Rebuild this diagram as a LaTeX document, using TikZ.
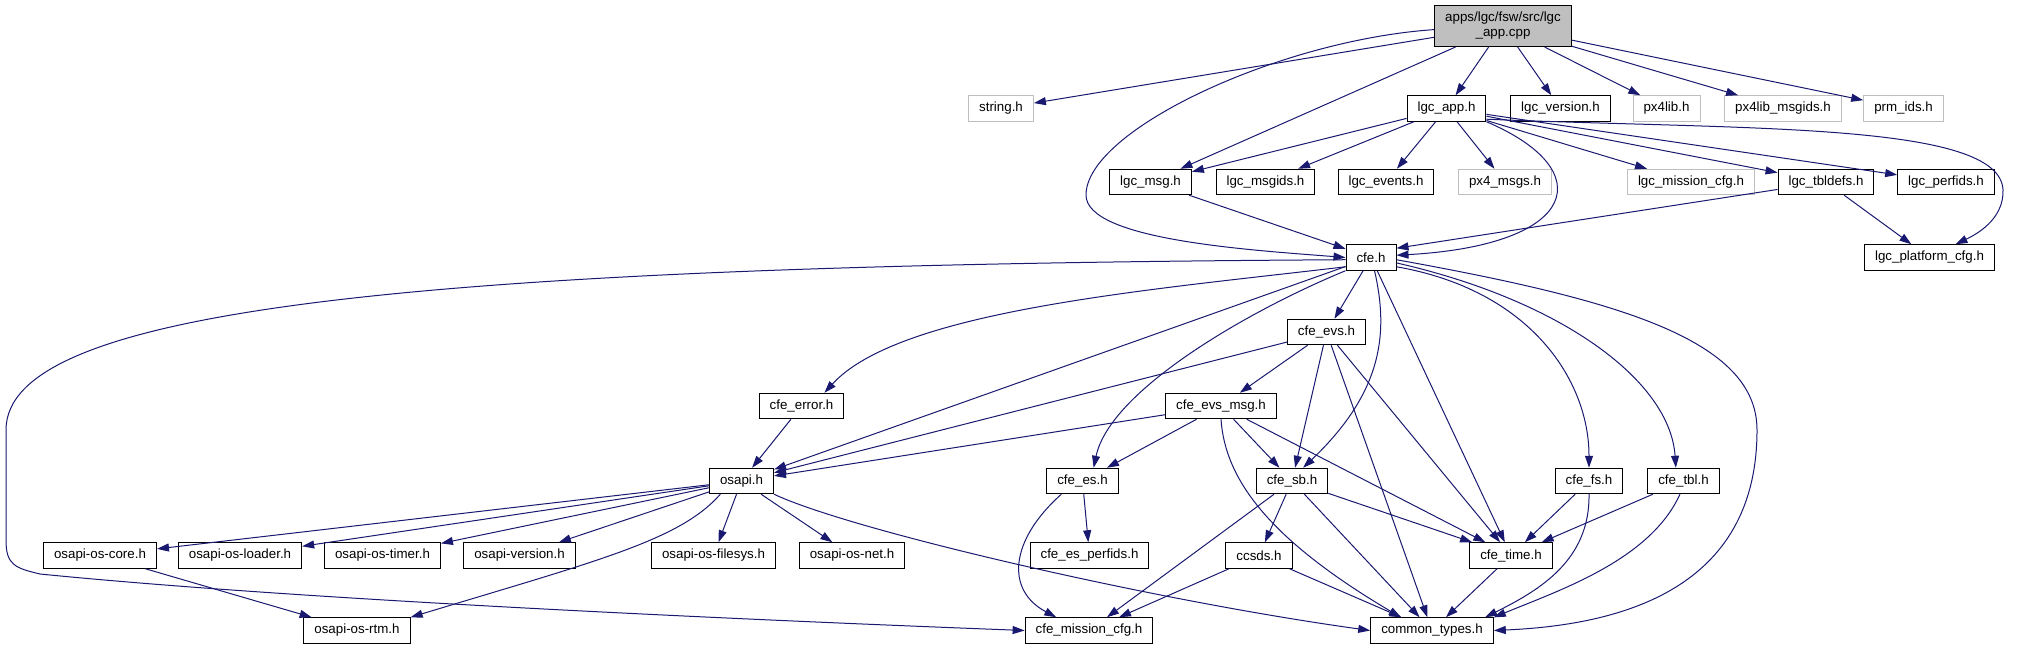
\documentclass[tikz,border=0pt]{standalone}
\usepackage{fontspec}
\newfontfamily\graphfont{Liberation Sans}
\usetikzlibrary{arrows.meta}

\definecolor{edgeblue}{HTML}{191970}
\definecolor{extgray}{HTML}{BFBFBF}

\begin{document}
\begin{tikzpicture}[
    x=0.75pt,
    y=-0.75pt,
    file/.style={
        rectangle,
        draw=black,
        fill=white,
        line width=0.75pt,
        font={\graphfont\fontsize{10}{11.25}\selectfont},
        inner xsep=7.9pt,
        inner ysep=0pt,
        minimum height=19.1pt
    },
    extfile/.style={file, draw=extgray},
    mainfile/.style={file, fill=extgray, align=center, minimum height=30.75pt},
    dep/.style={draw=edgeblue, line width=0.75pt, -{Triangle[length=9pt,width=6pt]}}
]

\useasboundingbox (0,0) rectangle (2019,649);

\node[mainfile] (appcpp) at (1503,26) {apps/lgc/fsw/src/lgc\\\_app.cpp};

\node[extfile] (string) at (1001,108.5) {string.h};
\node[file] (lgcapp) at (1446.5,108.5) {lgc\_app.h};
\node[file] (lgcversion) at (1560.5,108.5) {lgc\_version.h};
\node[extfile] (px4lib) at (1666.5,108.5) {px4lib.h};
\node[extfile] (px4msgids) at (1783,108.5) {px4lib\_msgids.h};
\node[extfile] (prmids) at (1903.5,108.5) {prm\_ids.h};

\node[file] (lgcmsg) at (1150.5,182) {lgc\_msg.h};
\node[file] (lgcmsgids) at (1265.5,182) {lgc\_msgids.h};
\node[file] (lgcevents) at (1386,182) {lgc\_events.h};
\node[extfile] (px4msgs) at (1505,182) {px4\_msgs.h};
\node[extfile] (lgcmission) at (1691,182) {lgc\_mission\_cfg.h};
\node[file] (lgctbldefs) at (1826,182) {lgc\_tbldefs.h};
\node[file] (lgcperfids) at (1946,182) {lgc\_perfids.h};

\node[file] (cfe) at (1371,257.5) {cfe.h};
\node[file] (lgcplatform) at (1929.5,257.5) {lgc\_platform\_cfg.h};

\node[file] (cfeevs) at (1326.5,332) {cfe\_evs.h};

\node[file] (cfeerror) at (801.5,406) {cfe\_error.h};
\node[file] (cfeevsmsg) at (1221,406) {cfe\_evs\_msg.h};

\node[file] (osapi) at (741.5,481) {osapi.h};
\node[file] (cfees) at (1082.5,481) {cfe\_es.h};
\node[file] (cfesb) at (1292,481) {cfe\_sb.h};
\node[file] (cfefs) at (1589,481) {cfe\_fs.h};
\node[file] (cfetbl) at (1683.5,481) {cfe\_tbl.h};

\node[file] (oscore) at (100,555.5) {osapi-os-core.h};
\node[file] (osloader) at (240,555.5) {osapi-os-loader.h};
\node[file] (ostimer) at (382.5,555.5) {osapi-os-timer.h};
\node[file] (osversion) at (519.5,555.5) {osapi-version.h};
\node[file] (osfilesys) at (713.5,555.5) {osapi-os-filesys.h};
\node[file] (osnet) at (852,555.5) {osapi-os-net.h};
\node[file] (cfeesperf) at (1089.5,555.5) {cfe\_es\_perfids.h};
\node[file] (ccsds) at (1259,555.5) {ccsds.h};
\node[file] (cfetime) at (1511,555.5) {cfe\_time.h};

\node[file] (osrtm) at (357,630.5) {osapi-os-rtm.h};
\node[file] (cfemission) at (1089,630.5) {cfe\_mission\_cfg.h};
\node[file] (commontypes) at (1432,630.5) {common\_types.h};

% source file
\draw[dep] (appcpp) -- (string);
\draw[dep] (appcpp) -- (lgcapp);
\draw[dep] (appcpp) -- (lgcversion);
\draw[dep] (appcpp) -- (px4lib);
\draw[dep] (appcpp) -- (px4msgids);
\draw[dep] (appcpp) -- (prmids);
\draw[dep] (appcpp) -- (lgcmsg);
\draw[dep] (appcpp.183) .. controls (1280,40) and (1086,130) .. (1086,195) .. controls (1086,240) and (1250,250) .. (cfe.west);

% lgc_app.h
\draw[dep] (lgcapp) -- (lgcmsg);
\draw[dep] (lgcapp) -- (lgcmsgids);
\draw[dep] (lgcapp) -- (lgcevents);
\draw[dep] (lgcapp) -- (px4msgs);
\draw[dep] (lgcapp) -- (lgcmission);
\draw[dep] (lgcapp) -- (lgctbldefs);
\draw[dep] (lgcapp) -- (lgcperfids);
\draw[dep] (lgcapp.south east) .. controls (1600,170) and (1580,245) .. (cfe.5);
\draw[dep] (lgcapp.345) .. controls (1750,130) and (2000,122) .. (2003,190) .. controls (2004,220) and (1975,235) .. (lgcplatform.27);

\draw[dep] (lgcmsg) -- (cfe);
\draw[dep] (lgctbldefs) -- (cfe.20);
\draw[dep] (lgctbldefs) -- (lgcplatform);

% cfe.h
\draw[dep] (cfe) -- (cfeevs);
\draw[dep] (cfe) -- (osapi);
\draw[dep] (cfe) -- (cfetime);
\draw[dep] (cfe.200) .. controls (1150,290) and (900,310) .. (cfeerror.30);
\draw[dep] (cfe.south west) .. controls (1250,310) and (1110,390) .. (cfees.50);
\draw[dep] (cfe.285) .. controls (1388,330) and (1385,390) .. (cfesb.50);
\draw[dep] (cfe.340) .. controls (1530,290) and (1589,380) .. (cfefs.north);
\draw[dep] (cfe.348) .. controls (1560,300) and (1670,380) .. (cfetbl.120);
\draw[dep] (cfe.355) .. controls (1620,300) and (1757,340) .. (1757,430) .. controls (1757,590) and (1620,625) .. (commontypes.east);
\draw[dep] (cfe.185) .. controls (400,265) and (6,310) .. (6,430) -- (6,540) .. controls (6,565) and (15,568) .. (40,574) .. controls (300,600) and (750,620) .. (cfemission.west);

% cfe_evs.h and cfe_evs_msg.h
\draw[dep] (cfeevs) -- (cfeevsmsg);
\draw[dep] (cfeevs) -- (osapi);
\draw[dep] (cfeevs) -- (cfesb);
\draw[dep] (cfeevs) -- (cfetime);
\draw[dep] (cfeevs) -- (commontypes);
\draw[dep] (cfeevsmsg) -- (osapi);
\draw[dep] (cfeevsmsg) -- (cfees);
\draw[dep] (cfeevsmsg) -- (cfesb);
\draw[dep] (cfeevsmsg) -- (cfetime);
\draw[dep] (cfeevsmsg.south) .. controls (1225,480) and (1270,540) .. (commontypes.157);

\draw[dep] (cfeerror) -- (osapi);

% osapi.h
\draw[dep] (osapi) -- (oscore);
\draw[dep] (osapi) -- (osloader);
\draw[dep] (osapi) -- (ostimer);
\draw[dep] (osapi) -- (osversion);
\draw[dep] (osapi) -- (osfilesys);
\draw[dep] (osapi) -- (osnet);
\draw[dep] (osapi.212) .. controls (680,540) and (600,560) .. (osrtm.north east);
\draw[dep] (osapi.south east) .. controls (850,530) and (1150,600) .. (commontypes.west);
\draw[dep] (oscore) -- (osrtm);

% lower cfe headers
\draw[dep] (cfees) -- (cfeesperf);
\draw[dep] (cfees.212) .. controls (1010,540) and (1005,590) .. (cfemission.158);
\draw[dep] (cfesb) -- (ccsds);
\draw[dep] (cfesb) -- (cfemission);
\draw[dep] (cfesb) -- (commontypes);
\draw[dep] (cfesb) -- (cfetime);
\draw[dep] (ccsds) -- (cfemission);
\draw[dep] (ccsds) -- (commontypes);
\draw[dep] (cfetime) -- (commontypes);
\draw[dep] (cfefs) -- (cfetime);
\draw[dep] (cfefs.south) .. controls (1590,560) and (1540,590) .. (commontypes.14);
\draw[dep] (cfetbl) -- (cfetime);
\draw[dep] (cfetbl.255) .. controls (1650,560) and (1560,590) .. (commontypes.12);

\end{tikzpicture}
\end{document}
